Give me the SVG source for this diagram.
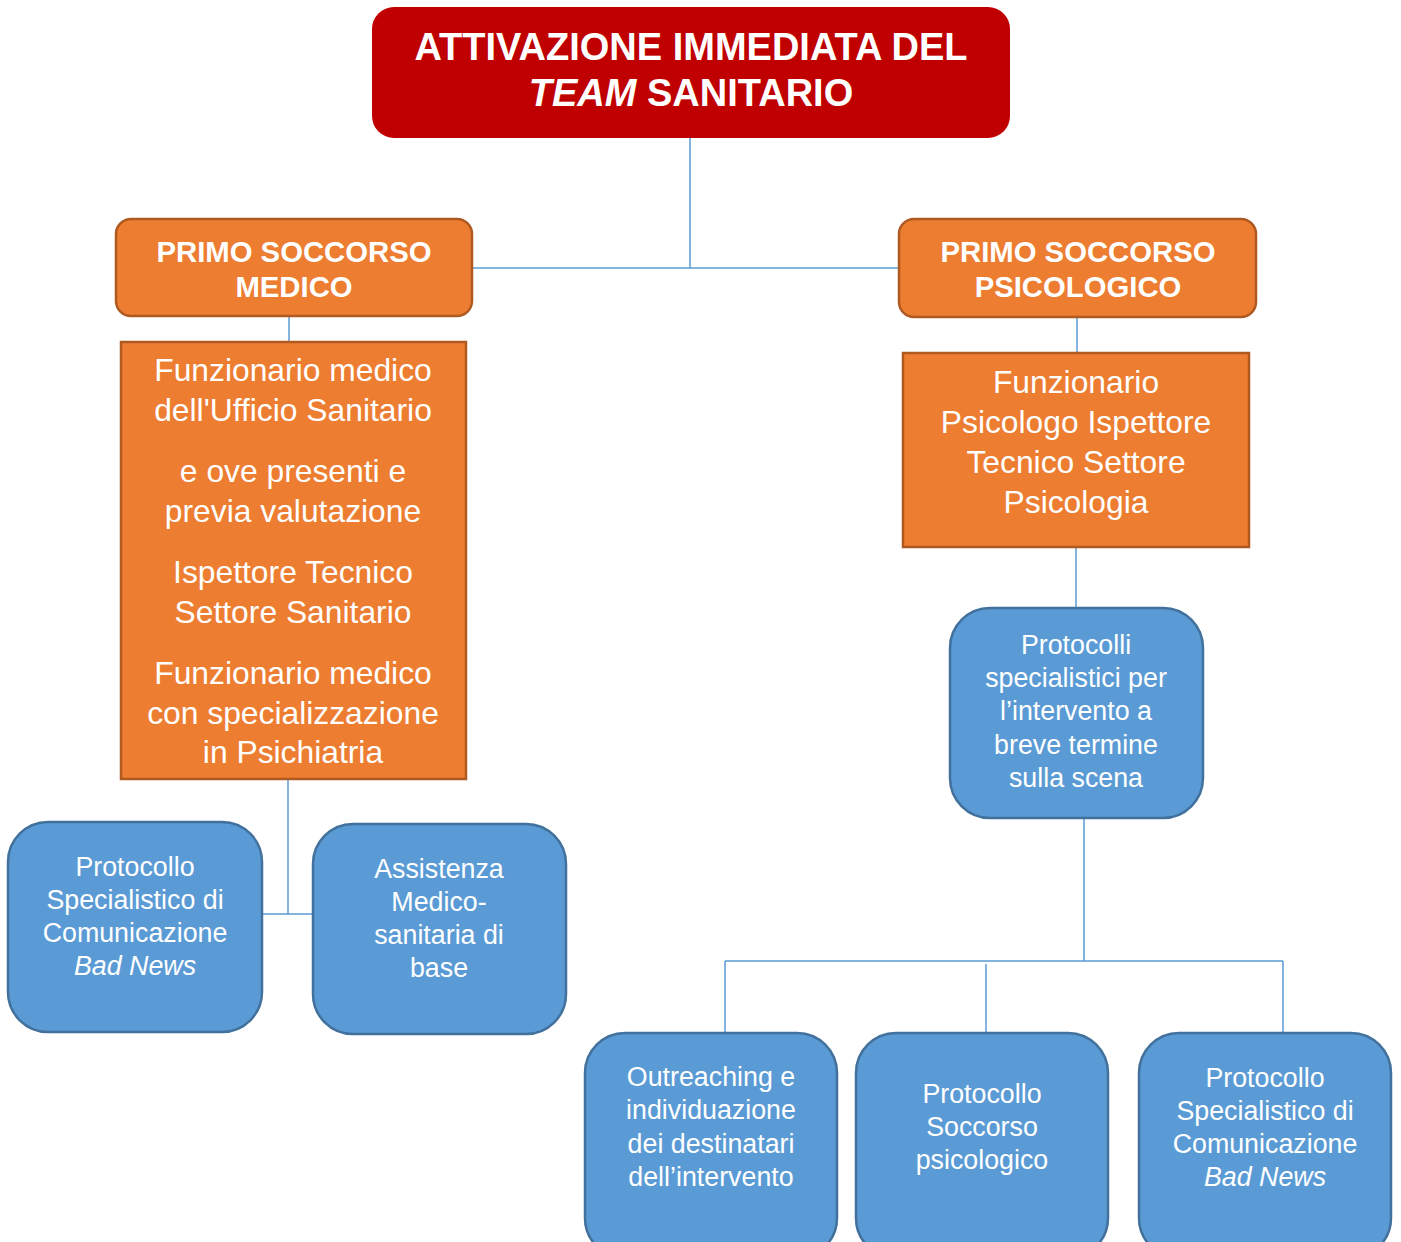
<svg xmlns="http://www.w3.org/2000/svg" width="1401" height="1242" viewBox="0 0 1401 1242">
  <style>
    .red { fill: #C00000; }
    .head { fill: #ED7D31; stroke: #AE5A21; stroke-width: 2.5; }
    .role { fill: #ED7D31; stroke: #AE5A21; stroke-width: 2.5; }
    .proto { fill: #5B9BD5; stroke: #41719C; stroke-width: 2.5; }
    .link { stroke: #5B9BD5; stroke-width: 1.5; fill: none; }
    text { font-family: "Liberation Sans", Arial, sans-serif; fill: #FFFFFF; text-anchor: middle; }
    .t-title { font-size: 38px; font-weight: bold; }
    .t-head { font-size: 29.3px; font-weight: bold; }
    .t-role { font-size: 31.8px; }
    .t-proto { font-size: 26.8px; }
    .it { font-style: italic; }
  </style>

  <g id="connectors">
    <path class="link" d="M690 138 V268 M472 268 H899"/>
    <path class="link" d="M289 316 V342"/>
    <path class="link" d="M288 780 V914 M262 914 H313"/>
    <path class="link" d="M1077 317 V353"/>
    <path class="link" d="M1076 547 V608"/>
    <path class="link" d="M1084 818 V961 M725 961 H1283"/>
    <path class="link" d="M725 961 V1033 M986 964 V1033 M1283 961 V1033"/>
  </g>

  <g id="team">
    <rect class="red" x="372" y="7" width="638" height="131" rx="22"/>
    <text class="t-title" x="691" y="60">ATTIVAZIONE IMMEDIATA DEL</text>
    <text class="t-title" x="691" y="106"><tspan class="it">TEAM</tspan> SANITARIO</text>
  </g>

  <g id="medico">
    <rect class="head" x="116" y="219" width="356" height="97" rx="15"/>
    <text class="t-head" x="294" y="262">PRIMO SOCCORSO</text>
    <text class="t-head" x="294" y="297">MEDICO</text>
  </g>

  <g id="psicologico">
    <rect class="head" x="899" y="219" width="357" height="98" rx="15"/>
    <text class="t-head" x="1078" y="262">PRIMO SOCCORSO</text>
    <text class="t-head" x="1078" y="297">PSICOLOGICO</text>
  </g>

  <g id="funzionari-medici">
    <rect class="role" x="121" y="342" width="345" height="437"/>
    <text class="t-role" x="293" y="381">Funzionario medico</text>
    <text class="t-role" x="293" y="421">dell'Ufficio Sanitario</text>
    <text class="t-role" x="293" y="482">e ove presenti e</text>
    <text class="t-role" x="293" y="522">previa valutazione</text>
    <text class="t-role" x="293" y="583">Ispettore Tecnico</text>
    <text class="t-role" x="293" y="623">Settore Sanitario</text>
    <text class="t-role" x="293" y="684">Funzionario medico</text>
    <text class="t-role" x="293" y="724">con specializzazione</text>
    <text class="t-role" x="293" y="763">in Psichiatria</text>
  </g>

  <g id="funzionario-psicologo">
    <rect class="role" x="903" y="353" width="346" height="194"/>
    <text class="t-role" x="1076" y="393">Funzionario</text>
    <text class="t-role" x="1076" y="433">Psicologo Ispettore</text>
    <text class="t-role" x="1076" y="473">Tecnico Settore</text>
    <text class="t-role" x="1076" y="513">Psicologia</text>
  </g>

  <g id="bad-news-medico">
    <rect class="proto" x="8" y="822" width="254" height="210" rx="40"/>
    <text class="t-proto" x="135" y="876">Protocollo</text>
    <text class="t-proto" x="135" y="909">Specialistico di</text>
    <text class="t-proto" x="135" y="942">Comunicazione</text>
    <text class="t-proto it" x="135" y="975">Bad News</text>
  </g>

  <g id="assistenza">
    <rect class="proto" x="313" y="824" width="253" height="210" rx="40"/>
    <text class="t-proto" x="439" y="878">Assistenza</text>
    <text class="t-proto" x="439" y="911">Medico-</text>
    <text class="t-proto" x="439" y="944">sanitaria di</text>
    <text class="t-proto" x="439" y="977">base</text>
  </g>

  <g id="protocolli-breve-termine">
    <rect class="proto" x="950" y="608" width="253" height="210" rx="40"/>
    <text class="t-proto" x="1076" y="654">Protocolli</text>
    <text class="t-proto" x="1076" y="687">specialistici per</text>
    <text class="t-proto" x="1076" y="720">l’intervento a</text>
    <text class="t-proto" x="1076" y="754">breve termine</text>
    <text class="t-proto" x="1076" y="787">sulla scena</text>
  </g>

  <g id="outreaching">
    <rect class="proto" x="585" y="1033" width="252" height="225" rx="40"/>
    <text class="t-proto" x="711" y="1086">Outreaching e</text>
    <text class="t-proto" x="711" y="1119">individuazione</text>
    <text class="t-proto" x="711" y="1153">dei destinatari</text>
    <text class="t-proto" x="711" y="1186">dell’intervento</text>
  </g>

  <g id="soccorso-psicologico">
    <rect class="proto" x="856" y="1033" width="252" height="225" rx="40"/>
    <text class="t-proto" x="982" y="1103">Protocollo</text>
    <text class="t-proto" x="982" y="1136">Soccorso</text>
    <text class="t-proto" x="982" y="1169">psicologico</text>
  </g>

  <g id="bad-news-psicologico">
    <rect class="proto" x="1139" y="1033" width="252" height="225" rx="40"/>
    <text class="t-proto" x="1265" y="1087">Protocollo</text>
    <text class="t-proto" x="1265" y="1120">Specialistico di</text>
    <text class="t-proto" x="1265" y="1153">Comunicazione</text>
    <text class="t-proto it" x="1265" y="1186">Bad News</text>
  </g>
</svg>
